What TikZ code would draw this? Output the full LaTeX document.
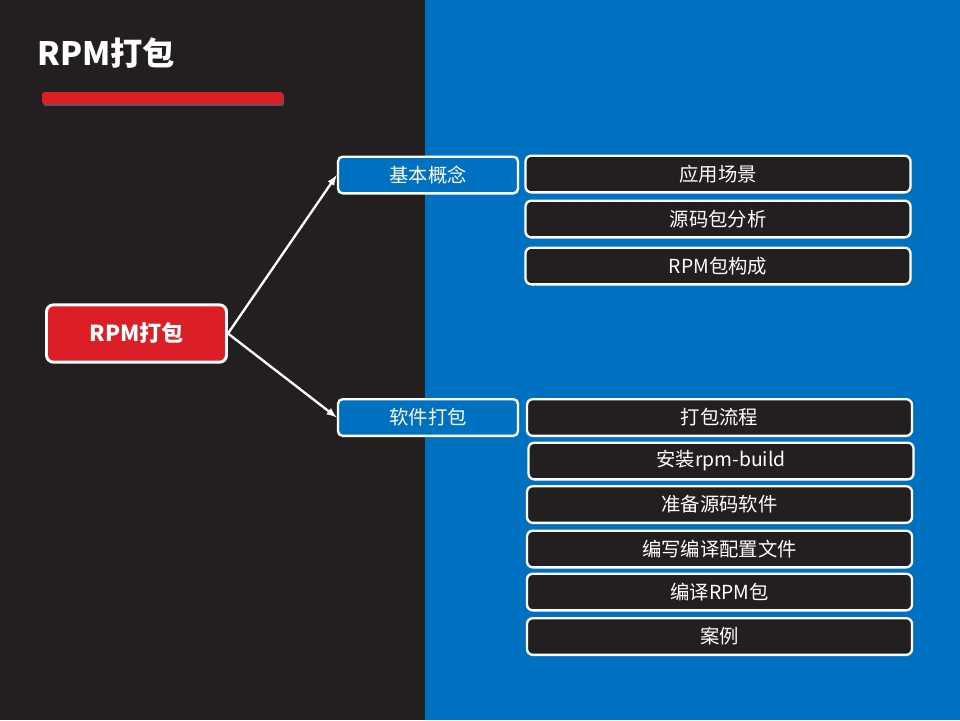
\documentclass[tikz,border=0pt]{standalone}
\usepackage{fontspec}
\setmainfont{Noto Sans CJK SC}
\usepackage{xcolor}
\usepackage{tikz}
\usetikzlibrary{arrows, positioning, shadows}
\definecolor{slatedark}{RGB}{35, 31, 32}
\definecolor{rpmblue}{RGB}{0, 112, 192}
\definecolor{rpmred}{RGB}{220, 30, 38}

\tikzset{
    rootbox/.style={draw=white, line width=2.5pt, fill=rpmred, rounded corners=6pt,
        minimum width=5.4cm, minimum height=1.72cm, text=white, font=\bfseries\fontsize{18.8}{22}\selectfont},
    catbox/.style={draw=white, line width=2pt, fill=rpmblue, rounded corners=4pt,
        minimum width=5.4cm, minimum height=1.1cm, text=white, font=\fontsize{16.5}{19}\selectfont},
    itembox/.style={draw=white, line width=2pt, fill=slatedark, rounded corners=5pt,
        minimum width=11.55cm, minimum height=1.1cm, text=white, font=\fontsize{16.5}{19}\selectfont},
    branch/.style={draw=white, line width=2pt, -latex}
}

\begin{document}
\begin{tikzpicture}[x=0.03cm, y=-0.03cm]
    % Background halves
    \fill[slatedark] (0,0) rectangle (425,720);
    \fill[rpmblue] (425,0) rectangle (960,720);
    \useasboundingbox (0,0) rectangle (960,720);

    % Title and red bar
    \node[anchor=west, text=white, font=\bfseries\fontsize{27.5}{32}\selectfont, inner sep=0pt] (title) at (37,53) {RPM打包};
    \fill[rpmred, rounded corners=1.5pt, drop shadow={opacity=0.6, shadow xshift=1pt, shadow yshift=-1.5pt}] (42,92) rectangle (283,104);

    % Root
    \node[rootbox] (root) at (136.5,333.5) {RPM打包};

    % Categories
    \node[catbox] (concept) at (428,175) {基本概念};
    \node[catbox] (packing) at (428,417.5) {软件打包};

    % Concept items
    \node[itembox] (scene) at (718,174) {应用场景};
    \node[itembox] (srcpkg) at (718,219) {源码包分析};
    \node[itembox] (rpmparts) at (718,266) {RPM包构成};

    % Packing items
    \node[itembox] (flow) at (719.5,417.5) {打包流程};
    \node[itembox] (install) at (721,461) {安装rpm-build};
    \node[itembox] (prepare) at (719.5,504.5) {准备源码软件};
    \node[itembox] (config) at (719.5,549) {编写编译配置文件};
    \node[itembox] (compile) at (719.5,592) {编译RPM包};
    \node[itembox] (example) at (719.5,636.5) {案例};

    % Branches
    \draw[branch] (root.east) -- (concept.west);
    \draw[branch] (root.east) -- (packing.west);
\end{tikzpicture}
\end{document}
